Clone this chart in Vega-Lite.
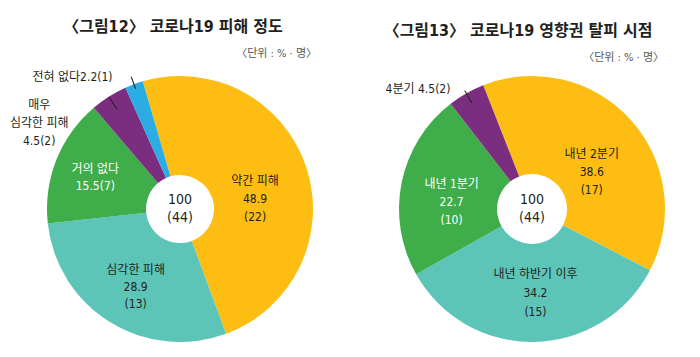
{
  "$schema": "https://vega.github.io/schema/vega-lite/v6.json",
  "padding": {"left": 9, "top": 19, "right": 0, "bottom": 0},
  "background": "white",
  "config": {
    "view": {"stroke": null},
    "font": "Liberation Sans Narrow, DejaVu Sans Condensed, Noto Sans CJK KR, sans-serif",
    "text": {"font": "Liberation Sans Narrow, DejaVu Sans Condensed, Noto Sans CJK KR, sans-serif"},
    "title": {"font": "Liberation Sans Narrow, DejaVu Sans Condensed, Noto Sans CJK KR, sans-serif", "color": "#231f20"}
  },
  "datasets": {
    "left": [
      {"cat": "약간 피해", "value": 48.9, "n": 22, "idx": 1, "label": "약간 피해\n48.9\n(22)"},
      {"cat": "심각한 피해", "value": 28.9, "n": 13, "idx": 2, "label": "심각한 피해\n28.9\n(13)"},
      {"cat": "거의 없다", "value": 15.5, "n": 7, "idx": 3, "label": "거의 없다\n15.5(7)"},
      {"cat": "매우 심각한 피해", "value": 4.5, "n": 2, "idx": 4, "label": "매우\n심각한 피해\n4.5(2)"},
      {"cat": "전혀 없다", "value": 2.2, "n": 1, "idx": 5, "label": "전혀 없다2.2(1)"}
    ],
    "right": [
      {"cat": "내년 2분기", "value": 38.6, "n": 17, "idx": 1, "label": "내년 2분기\n38.6\n(17)"},
      {"cat": "내년 하반기 이후", "value": 34.2, "n": 15, "idx": 2, "label": "내년 하반기 이후\n34.2\n(15)"},
      {"cat": "내년 1분기", "value": 22.7, "n": 10, "idx": 3, "label": "내년 1분기\n22.7\n(10)"},
      {"cat": "4분기", "value": 4.5, "n": 2, "idx": 4, "label": "4분기 4.5(2)"}
    ]
  },
  "hconcat": [
    {
      "title": {"text": "〈그림12〉 코로나19 피해 정도", "anchor": "middle", "fontSize": 16, "fontWeight": "bold", "dx": -7, "offset": 13},
      "vconcat": [
        {
          "title": {"text": "〈단위 : % · 명〉", "anchor": "end", "fontSize": 11, "fontWeight": "normal", "color": "#555555", "dx": -33, "offset": 12},
          "width": 340,
          "height": 268,
          "data": {"name": "left"},
          "layer": [
            {
              "mark": {"type": "arc", "outerRadius": 133, "innerRadius": 34},
              "encoding": {
                "theta": {"field": "value", "type": "quantitative", "stack": true, "scale": {"range": [-0.2845, 5.9987]}},
                "order": {"field": "idx", "type": "quantitative"},
                "color": {"field": "cat", "type": "nominal", "legend": null,
                  "scale": {"domain": ["약간 피해", "심각한 피해", "거의 없다", "매우 심각한 피해", "전혀 없다"],
                            "range": ["#FDBD13", "#5DC4B8", "#3EAD4A", "#7B2D80", "#2BACE2"]}}
              }
            },
            {
              "mark": {"type": "arc", "outerRadius": 132, "innerRadius": 118, "padAngle": 1, "filled": false, "stroke": "#231f20", "strokeWidth": 0.8},
              "encoding": {
                "theta": {"field": "value", "type": "quantitative", "stack": true},
                "order": {"field": "idx", "type": "quantitative"},
                "detail": {"field": "cat", "type": "nominal"},
                "strokeOpacity": {"condition": {"test": "datum.cat === '매우 심각한 피해'", "value": 1}, "value": 0}
              }
            },
            {
              "mark": {"type": "arc", "outerRadius": 141, "innerRadius": 128, "padAngle": 1, "filled": false, "stroke": "#231f20", "strokeWidth": 0.8},
              "encoding": {
                "theta": {"field": "value", "type": "quantitative", "stack": true},
                "order": {"field": "idx", "type": "quantitative"},
                "detail": {"field": "cat", "type": "nominal"},
                "strokeOpacity": {"condition": {"test": "datum.cat === '전혀 없다'", "value": 1}, "value": 0}
              }
            },
            {
              "mark": {"type": "text", "radius": 79, "dy": -3, "lineBreak": "\n", "fontSize": 12, "lineHeight": 18, "color": "#231f20"},
              "encoding": {
                "theta": {"field": "value", "type": "quantitative", "stack": true},
                "order": {"field": "idx", "type": "quantitative"},
                "detail": {"field": "cat", "type": "nominal"},
                "text": {"condition": {"test": "datum.cat === '약간 피해'", "field": "label", "type": "nominal"}, "value": ""}
              }
            },
            {
              "mark": {"type": "text", "radius": 90, "dx": 3, "dy": -16, "lineBreak": "\n", "fontSize": 12, "lineHeight": 17, "color": "#231f20"},
              "encoding": {
                "theta": {"field": "value", "type": "quantitative", "stack": true},
                "order": {"field": "idx", "type": "quantitative"},
                "detail": {"field": "cat", "type": "nominal"},
                "text": {"condition": {"test": "datum.cat === '심각한 피해'", "field": "label", "type": "nominal"}, "value": ""}
              }
            },
            {
              "mark": {"type": "text", "radius": 90, "dx": -1, "dy": -7, "lineBreak": "\n", "fontSize": 12, "lineHeight": 17, "color": "#ffffff"},
              "encoding": {
                "theta": {"field": "value", "type": "quantitative", "stack": true},
                "order": {"field": "idx", "type": "quantitative"},
                "detail": {"field": "cat", "type": "nominal"},
                "text": {"condition": {"test": "datum.cat === '거의 없다'", "field": "label", "type": "nominal"}, "value": ""}
              }
            },
            {
              "transform": [
                {"stack": "value", "groupby": [], "sort": [{"field": "idx", "order": "ascending"}], "as": ["s0", "s1"]},
                {"filter": "datum.cat === '매우 심각한 피해'"}
              ],
              "mark": {"type": "text", "radius": 140, "dx": -50, "dy": 3, "lineBreak": "\n", "fontSize": 12, "lineHeight": 18, "color": "#231f20"},
              "encoding": {
                "theta": {"field": "s0", "type": "quantitative", "stack": null},
                "text": {"field": "label", "type": "nominal"}
              }
            },
            {
              "transform": [
                {"stack": "value", "groupby": [], "sort": [{"field": "idx", "order": "ascending"}], "as": ["s0", "s1"]},
                {"filter": "datum.cat === '전혀 없다'"}
              ],
              "mark": {"type": "text", "radius": 140, "dx": -10, "dy": -4, "align": "right", "fontSize": 12, "color": "#231f20"},
              "encoding": {
                "theta": {"field": "s0", "type": "quantitative", "stack": null},
                "text": {"field": "label", "type": "nominal"}
              }
            },
            {
              "data": {"values": [{"t": "100\n(44)"}]},
              "mark": {"type": "text", "dy": -9, "lineBreak": "\n", "fontSize": 14, "lineHeight": 18, "color": "#231f20"},
              "encoding": {"text": {"field": "t", "type": "nominal"}}
            }
          ]
        }
      ]
    },
    {
      "title": {"text": "〈그림13〉 코로나19 영향권 탈피 시점", "anchor": "middle", "fontSize": 16, "fontWeight": "bold", "dx": -14, "offset": 13},
      "vconcat": [
        {
          "title": {"text": "〈단위 : % · 명〉", "anchor": "end", "fontSize": 11, "fontWeight": "normal", "color": "#555555", "dx": -28, "offset": 12},
          "width": 320,
          "height": 268,
          "data": {"name": "right"},
          "layer": [
            {
              "mark": {"type": "arc", "outerRadius": 133, "innerRadius": 35},
              "encoding": {
                "theta": {"field": "value", "type": "quantitative", "stack": true, "scale": {"range": [-0.375, 5.908]}},
                "order": {"field": "idx", "type": "quantitative"},
                "color": {"field": "cat", "type": "nominal", "legend": null,
                  "scale": {"domain": ["내년 2분기", "내년 하반기 이후", "내년 1분기", "4분기"],
                            "range": ["#FDBD13", "#5DC4B8", "#3EAD4A", "#7B2D80"]}}
              }
            },
            {
              "mark": {"type": "arc", "outerRadius": 136, "innerRadius": 122, "padAngle": 1, "filled": false, "stroke": "#231f20", "strokeWidth": 0.8},
              "encoding": {
                "theta": {"field": "value", "type": "quantitative", "stack": true},
                "order": {"field": "idx", "type": "quantitative"},
                "detail": {"field": "cat", "type": "nominal"},
                "strokeOpacity": {"condition": {"test": "datum.cat === '4분기'", "value": 1}, "value": 0}
              }
            },
            {
              "mark": {"type": "text", "radius": 75, "dx": 4, "dy": -5, "lineBreak": "\n", "fontSize": 12, "lineHeight": 18, "color": "#231f20"},
              "encoding": {
                "theta": {"field": "value", "type": "quantitative", "stack": true},
                "order": {"field": "idx", "type": "quantitative"},
                "detail": {"field": "cat", "type": "nominal"},
                "text": {"condition": {"test": "datum.cat === '내년 2분기'", "field": "label", "type": "nominal"}, "value": ""}
              }
            },
            {
              "mark": {"type": "text", "radius": 86, "dx": 2, "dy": -21, "lineBreak": "\n", "fontSize": 12, "lineHeight": 19, "color": "#231f20"},
              "encoding": {
                "theta": {"field": "value", "type": "quantitative", "stack": true},
                "order": {"field": "idx", "type": "quantitative"},
                "detail": {"field": "cat", "type": "nominal"},
                "text": {"condition": {"test": "datum.cat === '내년 하반기 이후'", "field": "label", "type": "nominal"}, "value": ""}
              }
            },
            {
              "mark": {"type": "text", "radius": 81, "dx": -1, "dy": -9, "lineBreak": "\n", "fontSize": 12, "lineHeight": 18, "color": "#ffffff"},
              "encoding": {
                "theta": {"field": "value", "type": "quantitative", "stack": true},
                "order": {"field": "idx", "type": "quantitative"},
                "detail": {"field": "cat", "type": "nominal"},
                "text": {"condition": {"test": "datum.cat === '내년 1분기'", "field": "label", "type": "nominal"}, "value": ""}
              }
            },
            {
              "transform": [
                {"stack": "value", "groupby": [], "sort": [{"field": "idx", "order": "ascending"}], "as": ["s0", "s1"]},
                {"filter": "datum.cat === '4분기'"}
              ],
              "mark": {"type": "text", "radius": 135, "dx": 1, "dy": -13, "align": "right", "fontSize": 12, "color": "#231f20"},
              "encoding": {
                "theta": {"field": "s0", "type": "quantitative", "stack": null},
                "text": {"field": "label", "type": "nominal"}
              }
            },
            {
              "data": {"values": [{"t": "100\n(44)"}]},
              "mark": {"type": "text", "dy": -9, "lineBreak": "\n", "fontSize": 14, "lineHeight": 18, "color": "#231f20"},
              "encoding": {"text": {"field": "t", "type": "nominal"}}
            }
          ]
        }
      ]
    }
  ],
  "spacing": 22
}
